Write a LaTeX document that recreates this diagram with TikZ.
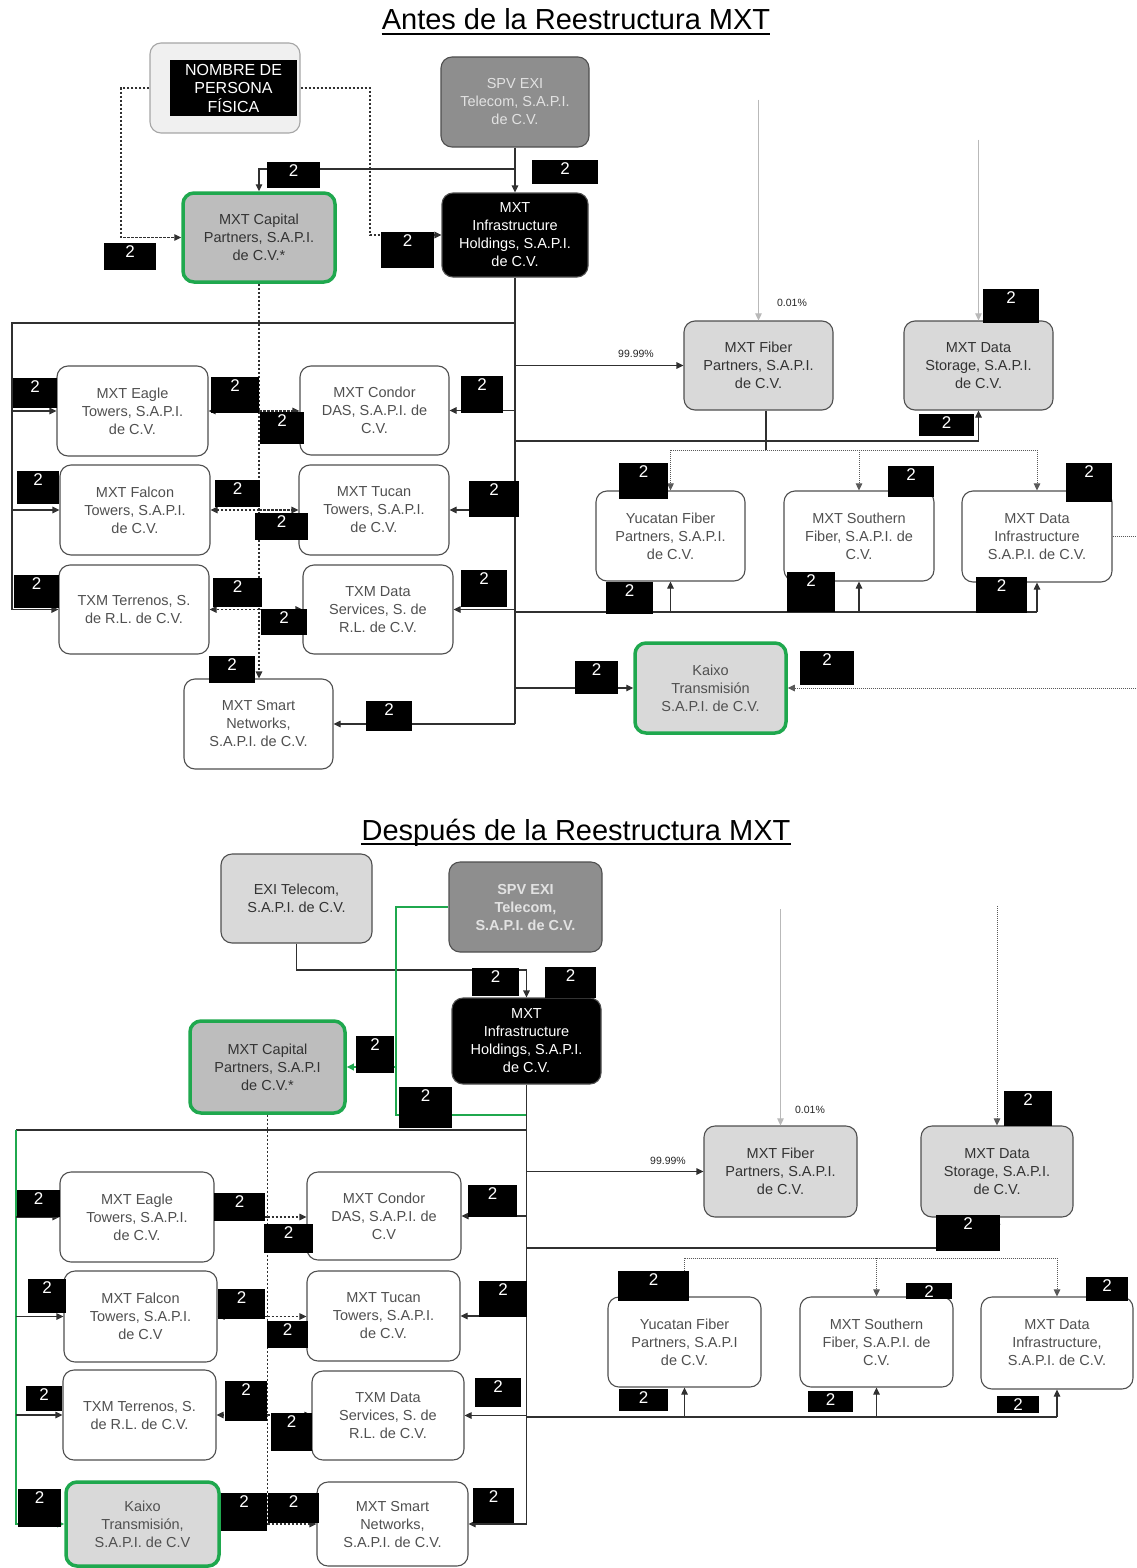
\documentclass[tikz,border=0pt]{standalone}
\usepackage{fontspec}
\setmainfont{Liberation Sans}
\usetikzlibrary{arrows.meta}
\definecolor{bd}{HTML}{4F4F4F}
\definecolor{tx}{HTML}{505050}
\definecolor{lg}{HTML}{D9D9D9}
\definecolor{capf}{HTML}{BDBDBD}
\definecolor{spvf}{HTML}{8E8E8E}
\definecolor{spvt}{HTML}{E2E2E2}
\definecolor{grn}{HTML}{1FA84E}
\definecolor{lc}{HTML}{303030}
\definecolor{nomf}{HTML}{F0F0F0}
\newcounter{labc}
\newcommand\bx[7]{\pgfmathsetmacro\bw{#5-#3}\pgfmathsetmacro\bh{#6-#4}%
  \node[#2, minimum width=\bw pt, minimum height=\bh pt] (#1) at ({(#3+#5)/2},{(#4+#6)/2}) {#7};}
\newcommand\lab[4]{\stepcounter{labc}\pgfmathsetmacro\lw{#3-#1}\pgfmathsetmacro\lh{#4-#2}\pgfmathsetmacro\ld{max(\lh-15,0)}%
  \node[labbox, minimum width=\lw pt, text height=13pt, text depth=\ld pt, anchor=north west] (lab\arabic{labc}) at (#1,#2) {2};}
\tikzset{
  ent/.style={draw=bd, rounded corners=11pt, line width=1.1pt, fill=white, text=tx, align=center,
    font=\fontsize{14.5}{18}\selectfont, inner sep=1pt},
  entlg/.style={ent, fill=lg, text=black!80},
  entcap/.style={ent, fill=capf, draw=grn, line width=3.5pt, text=black!80},
  entkx/.style={ent, fill=lg, draw=grn, line width=3.5pt, text=tx},
  entspv/.style={ent, fill=spvf, text=spvt},
  entmih/.style={ent, fill=black, text=white},
  entnom/.style={ent, fill=nomf, draw=gray!70},
  nomtxt/.style={fill=black, text=white, align=center, font=\fontsize{16}{18.5}\selectfont, inner sep=0pt},
  labbox/.style={fill=black, text=white, inner xsep=0pt, inner ysep=1pt, font=\fontsize{17}{17}\selectfont},
  ln/.style={draw=lc, line width=1.1pt},
  gln/.style={draw=grn, line width=2pt},
  tip/.style={-{Triangle[length=7pt,width=6.5pt]}},
  dsh/.style={ln, dash pattern=on 2.5pt off 1.5pt},
  dot/.style={draw=lc!80, line width=0.9pt, dash pattern=on 1pt off 1pt},
  faint/.style={draw=gray!55, line width=0.8pt},
  pct/.style={font=\fontsize{10.5}{12}\selectfont, text=black!85, inner sep=0pt},
  ttl/.style={font=\fontsize{29}{32}\selectfont, inner sep=0pt, anchor=base},
}
\begin{document}
\begin{tikzpicture}[x=1pt,y=-1pt]
\useasboundingbox (0,0) rectangle (1136,1568);
\fill[white] (0,0) rectangle (1136,1568);
% ================= TOP =================
\node[ttl] (t1) at (576,30) {Antes de la Reestructura MXT};
\draw[line width=2pt] ([yshift=-4pt]t1.base west) -- ([yshift=-4pt]t1.base east);
\bx{nombre}{entnom}{150}{43}{300}{133}{}
\bx{nombreT}{nomtxt}{170}{60}{297}{116}{NOMBRE DE\\PERSONA\\FÍSICA}
\bx{spv1}{entspv}{441}{57}{589}{147}{SPV EXI\\Telecom, S.A.P.I.\\de C.V.}
\bx{cap1}{entcap}{183}{193}{335}{282}{MXT Capital\\Partners, S.A.P.I.\\de C.V.*}
\bx{mih1}{entmih}{442}{193}{588}{277}{MXT\\Infrastructure\\Holdings, S.A.P.I.\\de C.V.}
\bx{fiber1}{entlg}{684}{321}{833}{410}{MXT Fiber\\Partners, S.A.P.I.\\de C.V.}
\bx{storage1}{entlg}{904}{321}{1053}{410}{MXT Data\\Storage, S.A.P.I.\\de C.V.}
\bx{eagle1}{ent}{57}{366}{208}{456}{MXT Eagle\\Towers, S.A.P.I.\\de C.V.}
\bx{condor1}{ent}{300}{366}{449}{455}{MXT Condor\\DAS, S.A.P.I. de\\C.V.}
\bx{falcon1}{ent}{60}{465}{210}{555}{MXT Falcon\\Towers, S.A.P.I.\\de C.V.}
\bx{tucan1}{ent}{299}{465}{449}{555}{MXT Tucan\\Towers, S.A.P.I.\\de C.V.}
\bx{terr1}{ent}{59}{565}{209}{654}{TXM Terrenos, S.\\de R.L. de C.V.}
\bx{txm1}{ent}{303}{565}{453}{654}{TXM Data\\Services, S. de\\R.L. de C.V.}
\bx{smart1}{ent}{184}{679}{333}{769}{MXT Smart\\Networks,\\S.A.P.I. de C.V.}
\bx{yuc1}{ent}{596}{491}{745}{581}{Yucatan Fiber\\Partners, S.A.P.I.\\de C.V.}
\bx{south1}{ent}{784}{491}{934}{581}{MXT Southern\\Fiber, S.A.P.I. de\\C.V.}
\bx{dinf1}{ent}{962}{491}{1112}{582}{MXT Data\\Infrastructure\\S.A.P.I. de C.V.}
\bx{kaixo1}{entkx}{635}{643}{786}{733}{Kaixo\\Transmisión\\S.A.P.I. de C.V.}
% connectors top
\draw[dsh,tip] (nombre.west) -- (121,88) |- (cap1.west);
\draw[dsh,tip] (nombre.east) -- (370,88) |- (mih1.west);
\draw[ln,tip] (spv1.south -| mih1.north) -- (mih1.north);
\coordinate (j1) at (mih1.north |- 0,169);
\draw[ln,tip] (j1) -| (cap1.north);
% dashed spine
\draw[dsh,tip] (cap1.south) -- (cap1.south |- smart1.north);
\foreach \l/\r in {eagle1/condor1, falcon1/tucan1, terr1/txm1}{
  \coordinate (sa) at (cap1.south |- \l.east);
  \draw[dsh,tip] (sa) -- (\l.east);
  \draw[dsh,tip] (sa) -- (sa -| \r.west);
}
% solid spine
\coordinate (m1) at (mih1.south |- smart1.east);
\draw[ln] (mih1.south) -- (m1);
\draw[ln,tip] (m1) -- (smart1.east);
\coordinate (tb) at (mih1.south |- 0,323);
\coordinate (tl) at (12,323);
\draw[ln,tip] (tb) -- (tl) |- (terr1.west);
\draw[ln,tip] (tl |- eagle1.west) -- (eagle1.west);
\draw[ln,tip] (tl |- falcon1.west) -- (falcon1.west);
\foreach \n in {condor1, tucan1, txm1}{
  \draw[ln,tip] (mih1.south |- \n.east) -- (\n.east);
}
\draw[ln,tip] (mih1.south |- fiber1.west) -- (fiber1.west);
\draw[ln,tip] (mih1.south |- 0,441) -| (storage1.south);
\coordinate (bb) at (mih1.south |- 0,612);
\draw[ln] (bb) -- (dinf1.south |- bb);
\foreach \n in {yuc1, south1, dinf1}{
  \draw[ln,tip] (\n.south |- bb) -- (\n.south);
}
\draw[ln,tip] (mih1.south |- kaixo1.west) -- (kaixo1.west);
% fiber bottom dotted bus
\coordinate (fb) at (766,450);
\draw[ln] (fiber1.south -| fb) -- (fb);
\draw[dot] (yuc1.north |- fb) -- (dinf1.north |- fb);
\foreach \n in {yuc1, south1, dinf1}{
  \draw[dot,tip] (\n.north |- fb) -- (\n.north);
}
\draw[faint,tip] (fiber1.north |- 0,100) -- (fiber1.north);
\draw[faint,tip] (storage1.north |- 0,140) -- (storage1.north);
\draw[dot] (dinf1.east) -- (dinf1.east -| 1136,0);
\draw[dot,tip] (kaixo1.east -| 1136,0) -- (kaixo1.east);
\node[pct] (p1) at (636,354) {99.99\%};
\node[pct] (p2) at (792,303) {0.01\%};
% labels top
\lab{104}{243}{156}{270}
\lab{267}{162}{320}{188}
\lab{532}{160}{598}{184}
\lab{381}{232}{434}{268}
\lab{13}{378}{57}{408}
\lab{211}{377}{259}{413}
\lab{260}{412}{304}{444}
\lab{461}{376}{503}{413}
\lab{17}{471}{59}{504}
\lab{215}{480}{260}{507}
\lab{255}{513}{308}{540}
\lab{469}{481}{519}{517}
\lab{14}{575}{59}{608}
\lab{213}{578}{262}{607}
\lab{261}{609}{307}{635}
\lab{461}{570}{507}{607}
\lab{209}{656}{255}{683}
\lab{366}{701}{412}{731}
\lab{983}{289}{1039}{323}
\lab{919}{414}{974}{436}
\lab{619}{463}{668}{499}
\lab{606}{582}{653}{614}
\lab{888}{466}{934}{497}
\lab{787}{572}{835}{612}
\lab{1066}{463}{1112}{502}
\lab{976}{577}{1027}{613}
\lab{575}{661}{618}{694}
\lab{800}{651}{854}{685}
% ================= BOTTOM =================
\node[ttl] (t2) at (576,840) {Después de la Reestructura MXT};
\draw[line width=2pt] ([yshift=-4pt]t2.base west) -- ([yshift=-4pt]t2.base east);
\bx{exi2}{entlg}{221}{854}{372}{943}{EXI Telecom,\\S.A.P.I. de C.V.}
\bx{spv2}{entspv}{449}{862}{602}{952}{\bfseries SPV EXI\\\bfseries Telecom,\\\bfseries S.A.P.I. de C.V.}
\bx{mih2}{entmih}{452}{998}{601}{1084}{MXT\\Infrastructure\\Holdings, S.A.P.I.\\de C.V.}
\bx{cap2}{entcap}{190}{1021}{345}{1113}{MXT Capital\\Partners, S.A.P.I\\de C.V.*}
\bx{fiber2}{entlg}{704}{1126}{857}{1217}{MXT Fiber\\Partners, S.A.P.I.\\de C.V.}
\bx{storage2}{entlg}{921}{1126}{1073}{1217}{MXT Data\\Storage, S.A.P.I.\\de C.V.}
\bx{yuc2}{ent}{608}{1297}{761}{1387}{Yucatan Fiber\\Partners, S.A.P.I\\de C.V.}
\bx{south2}{ent}{800}{1297}{953}{1387}{MXT Southern\\Fiber, S.A.P.I. de\\C.V.}
\bx{dinf2}{ent}{981}{1297}{1133}{1389}{MXT Data\\Infrastructure,\\S.A.P.I. de C.V.}
\bx{eagle2}{ent}{60}{1172}{214}{1262}{MXT Eagle\\Towers, S.A.P.I.\\de C.V.}
\bx{condor2}{ent}{307}{1172}{461}{1260}{MXT Condor\\DAS, S.A.P.I. de\\C.V}
\bx{falcon2}{ent}{64}{1271}{217}{1362}{MXT Falcon\\Towers, S.A.P.I.\\de C.V}
\bx{tucan2}{ent}{307}{1271}{460}{1361}{MXT Tucan\\Towers, S.A.P.I.\\de C.V.}
\bx{terr2}{ent}{63}{1370}{216}{1460}{TXM Terrenos, S.\\de R.L. de C.V.}
\bx{txm2}{ent}{312}{1371}{464}{1460}{TXM Data\\Services, S. de\\R.L. de C.V.}
\bx{kaixo2}{entkx}{66}{1482}{219}{1566}{Kaixo\\Transmisión,\\S.A.P.I. de C.V}
\bx{smart2}{ent}{317}{1482}{468}{1566}{MXT Smart\\Networks,\\S.A.P.I. de C.V.}
% connectors bottom
\draw[ln,tip] (exi2.south) -- (exi2.south |- 0,970) -| (mih2.north);
\draw[gln] (spv2.west) -- (spv2.west -| 396,0) -- (396,1115) -- (mih2.south |- 0,1115);
\draw[gln,tip] (cap2.east -| 396,0) -- (cap2.east);
\coordinate (m2) at (mih2.south |- smart2.east);
\draw[ln] (mih2.south) -- (m2);
\draw[ln,tip] (m2) -- (smart2.east);
\coordinate (tb2) at (mih2.south |- 0,1130);
\coordinate (tl2) at (16,1130);
\draw[ln] (tb2) -- (tl2);
\draw[gln,tip] (tl2) |- (kaixo2.west);
\foreach \n in {eagle2, falcon2, terr2}{
  \draw[ln,tip] (tl2 |- \n.west) -- (\n.west);
}
\foreach \n in {condor2, tucan2, txm2}{
  \draw[ln,tip] (mih2.south |- \n.east) -- (\n.east);
}
\draw[dsh] (cap2.south) -- (cap2.south |- smart2.west);
\foreach \l/\r in {eagle2/condor2, falcon2/tucan2, terr2/txm2, kaixo2/smart2}{
  \coordinate (sb) at (cap2.south |- \l.east);
  \draw[dsh,tip] (sb) -- (\l.east);
  \draw[dsh,tip] (sb) -- (sb -| \r.west);
}
\draw[ln,tip] (mih2.south |- fiber2.west) -- (fiber2.west);
\draw[faint,tip] (fiber2.north |- 0,909) -- (fiber2.north);
\draw[dot,tip] (storage2.north |- 0,906) -- (storage2.north);
\draw[ln,tip] (mih2.south |- 0,1248) -| (storage2.south);
\coordinate (fb2) at (yuc2.north |- 0,1258);
\draw[dot] (fb2) -- (dinf2.north |- fb2);
\foreach \n in {yuc2, south2, dinf2}{
  \draw[dot,tip] (\n.north |- fb2) -- (\n.north);
}
\coordinate (bb2) at (mih2.south |- 0,1417);
\draw[ln] (bb2) -- (dinf2.south |- bb2);
\foreach \n in {yuc2, south2, dinf2}{
  \draw[ln,tip] (\n.south |- bb2) -- (\n.south);
}
\node[pct] (p3) at (668,1161) {99.99\%};
\node[pct] (p4) at (810,1110) {0.01\%};
% labels bottom
\lab{472}{968}{519}{996}
\lab{545}{967}{596}{998}
\lab{356}{1036}{394}{1073}
\lab{399}{1087}{452}{1128}
\lab{1004}{1091}{1052}{1126}
\lab{936}{1215}{1000}{1251}
\lab{618}{1271}{689}{1301}
\lab{906}{1283}{952}{1299}
\lab{1086}{1277}{1128}{1301}
\lab{619}{1389}{668}{1411}
\lab{808}{1391}{853}{1412}
\lab{997}{1396}{1039}{1413}
\lab{17}{1190}{60}{1217}
\lab{214}{1193}{265}{1221}
\lab{264}{1224}{313}{1253}
\lab{468}{1185}{517}{1217}
\lab{28}{1279}{66}{1313}
\lab{218}{1289}{265}{1319}
\lab{267}{1321}{308}{1348}
\lab{479}{1281}{527}{1317}
\lab{26}{1386}{62}{1411}
\lab{225}{1381}{267}{1421}
\lab{271}{1413}{312}{1451}
\lab{475}{1378}{521}{1407}
\lab{18}{1489}{61}{1527}
\lab{221}{1493}{267}{1531}
\lab{268}{1493}{319}{1523}
\lab{473}{1488}{514}{1523}
\end{tikzpicture}
\end{document}
